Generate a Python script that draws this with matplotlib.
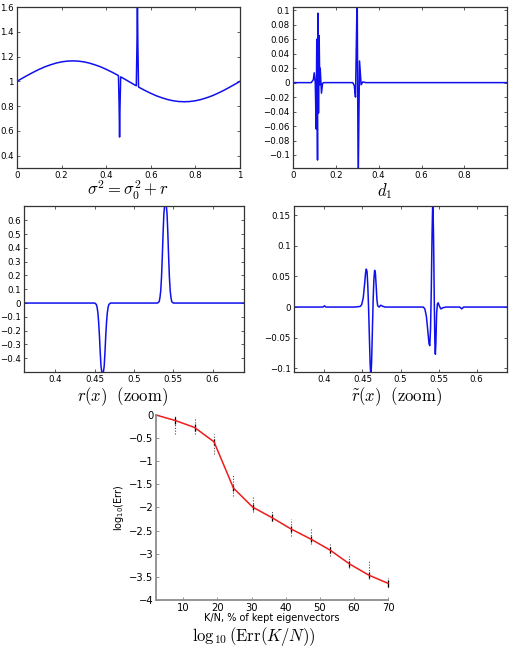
import numpy as np
import matplotlib as mpl
mpl.use('agg')
import matplotlib.pyplot as plt
from matplotlib.ticker import FuncFormatter

plt.rcParams['font.family'] = ['DejaVu Sans']
plt.rcParams['mathtext.fontset'] = 'cm'

##--##--  data  --##--##
# sigma^2 = sigma0^2 + r
sig_x = [0.0, 0.025, 0.05, 0.075, 0.1, 0.125, 0.15, 0.175, 0.2, 0.225, 0.25, 0.275, 0.3, 0.325,
         0.35, 0.375, 0.4, 0.425, 0.45, 0.455, 0.458, 0.46, 0.462, 0.465, 0.475,
         0.5, 0.525, 0.535, 0.538, 0.54, 0.542, 0.545, 0.55, 0.575, 0.6, 0.625, 0.65, 0.675,
         0.7, 0.725, 0.75, 0.775, 0.8, 0.825, 0.85, 0.875, 0.9, 0.925, 0.95, 0.975, 1.0]
sig_y = [1.0, 1.026, 1.051, 1.075, 1.097, 1.117, 1.133, 1.147, 1.157, 1.163, 1.165, 1.163, 1.157, 1.147,
         1.133, 1.117, 1.097, 1.075, 1.051, 1.046, 0.80, 0.55, 0.80, 1.036, 1.026,
         1.0, 0.974, 0.964, 1.30, 1.66, 1.30, 0.954, 0.949, 0.925, 0.903, 0.883, 0.867, 0.853,
         0.843, 0.837, 0.835, 0.837, 0.843, 0.853, 0.867, 0.883, 0.903, 0.925, 0.949, 0.974, 1.0]

# d_1
d1_x = [0.0, 0.085, 0.095, 0.099, 0.104, 0.108, 0.111, 0.1145, 0.116, 0.119, 0.122, 0.125, 0.127,
        0.133, 0.138, 0.144, 0.279, 0.286, 0.2918, 0.2996, 0.3043, 0.3106, 0.318, 0.326, 0.34, 1.0]
d1_y = [0.0, 0.0, 0.004, 0.0136, 0.0, -0.064, 0.060, -0.107, 0.096, -0.042, 0.065, -0.003, 0.020,
        -0.0145, -0.001, 0.0, 0.0, -0.004, -0.020, 0.125, -0.140, 0.030, -0.003, 0.001, 0.0, 0.0]

# r(x) zoom
r_x = [0.36, 0.450, 0.452, 0.453, 0.454, 0.455, 0.456, 0.457, 0.458, 0.459, 0.460, 0.461, 0.462,
       0.463, 0.464, 0.465, 0.466, 0.467, 0.468, 0.470,
       0.530, 0.532, 0.533, 0.534, 0.535, 0.536, 0.537, 0.538, 0.539, 0.540, 0.541, 0.542,
       0.543, 0.544, 0.545, 0.546, 0.547, 0.548, 0.550, 0.64]
r_y = [0.0, 0.0, -0.01, -0.03, -0.07, -0.14, -0.24, -0.36, -0.46, -0.50, -0.52, -0.50, -0.46,
       -0.36, -0.24, -0.14, -0.07, -0.03, -0.01, 0.0,
       0.0, 0.01, 0.04, 0.09, 0.19, 0.34, 0.51, 0.65, 0.71, 0.73, 0.71, 0.65,
       0.51, 0.34, 0.19, 0.09, 0.04, 0.01, 0.0, 0.0]

# r~(x) zoom
rt_x = [0.36, 0.398, 0.400, 0.402, 0.440, 0.447, 0.449, 0.451, 0.453, 0.454, 0.455, 0.456, 0.457,
        0.458, 0.459, 0.460, 0.461, 0.462, 0.463, 0.464, 0.465, 0.466, 0.467, 0.468, 0.469, 0.470,
        0.472, 0.474, 0.477, 0.480,
        0.530, 0.532, 0.534, 0.536, 0.5375, 0.5385, 0.5395, 0.5405, 0.5415, 0.5425, 0.5435, 0.5445,
        0.5452, 0.5458, 0.5465, 0.5475, 0.5485, 0.5495, 0.551, 0.553, 0.556, 0.560,
        0.578, 0.5805, 0.583, 0.64]
rt_y = [0.0, 0.0, 0.002, 0.0, 0.0, 0.001, 0.004, 0.015, 0.040, 0.055, 0.062, 0.058, 0.035,
        0.0, -0.045, -0.090, -0.115, -0.090, -0.040, 0.010, 0.045, 0.060, 0.055, 0.035, 0.012, 0.002,
        0.0, 0.003, 0.001, 0.0,
        0.0, -0.003, -0.015, -0.040, -0.060, -0.063, -0.035, 0.030, 0.120, 0.180, 0.110, 0.0,
        -0.060, -0.077, -0.060, -0.010, 0.005, 0.007, 0.002, -0.003, -0.001, 0.0,
        0.0, -0.003, 0.0, 0.0]

# log10(Err(K/N))
kn = [2, 7.7, 13.3, 19, 24.7, 30.3, 36, 41.7, 47.3, 53, 58.7, 64.3, 70]
err = [0.0, -0.12, -0.27, -0.58, -1.58, -1.99, -2.22, -2.47, -2.68, -2.92, -3.22, -3.46, -3.64]
err_hi = [0.0, -0.02, -0.08, -0.40, -1.28, -1.75, -2.05, -2.25, -2.45, -2.78, -3.05, -3.15, -3.52]
err_lo = [0.0, -0.42, -0.40, -0.85, -1.75, -2.10, -2.30, -2.62, -2.80, -3.05, -3.30, -3.55, -3.72]

# ticks
t1_x = [0, 0.2, 0.4, 0.6, 0.8, 1.0]
t1_y = [0.4, 0.6, 0.8, 1.0, 1.2, 1.4, 1.6]
t2_x = [0, 0.2, 0.4, 0.6, 0.8]
t2_y = [-0.1, -0.08, -0.06, -0.04, -0.02, 0, 0.02, 0.04, 0.06, 0.08, 0.1]
t3_x = [0.4, 0.45, 0.5, 0.55, 0.6]
t3_y = [-0.4, -0.3, -0.2, -0.1, 0, 0.1, 0.2, 0.3, 0.4, 0.5, 0.6]
t4_y = [-0.1, -0.05, 0, 0.05, 0.1, 0.15]
t5_x = [10, 20, 30, 40, 50, 60, 70]
t5_y = [-4, -3.5, -3, -2.5, -2, -1.5, -1, -0.5, 0]


def fmt(v, p):
    return ('%g' % round(v, 6)).replace('-', '\u2212')


def create_map(ax, xt, yt):
    ax.set_xticks(xt)
    ax.set_yticks(yt)
    ax.xaxis.set_major_formatter(FuncFormatter(fmt))
    ax.yaxis.set_major_formatter(FuncFormatter(fmt))
    ax.tick_params(axis='both', direction='in', length=2.5, width=0.6, labelsize=6.2,
                   top=True, right=True, color='0.25', pad=2.5)
    for s in ax.spines.values():
        s.set_linewidth(0.9)
        s.set_color('0.2')
    return ax


##--##--  figure  --##--##
fig = plt.figure(figsize=(5.10, 6.55), dpi=100)

ax1 = fig.add_axes([0.0333, 0.7435, 0.4373, 0.2458])
create_map(ax1, t1_x, t1_y)
ax1.plot(sig_x, sig_y, color='#1010ee', linewidth=1.1)
ax1.set_xlim(0, 1)
ax1.set_ylim(0.3, 1.6)

ax2 = fig.add_axes([0.5745, 0.7435, 0.4196, 0.2458])
create_map(ax2, t2_x, t2_y)
ax2.plot(d1_x, d1_y, color='#1010ee', linewidth=1.1)
ax2.set_xlim(0, 0.999)
ax2.set_ylim(-0.118, 0.1045)

ax3 = fig.add_axes([0.0471, 0.4321, 0.4314, 0.2534])
create_map(ax3, t3_x, t3_y)
ax3.plot(r_x, r_y, color='#1010ee', linewidth=1.1)
ax3.set_xlim(0.36, 0.64)
ax3.set_ylim(-0.5, 0.704)

ax4 = fig.add_axes([0.5765, 0.4321, 0.4176, 0.2534])
create_map(ax4, t3_x, t4_y)
ax4.plot(rt_x, rt_y, color='#1010ee', linewidth=1.1)
ax4.set_xlim(0.36, 0.64)
ax4.set_ylim(-0.106, 0.165)

ax5 = fig.add_axes([0.3059, 0.0840, 0.4549, 0.2824])
ax5.vlines(kn[1:], err_lo[1:], err_hi[1:], color='0.3', linewidth=0.8, linestyles=(0, (1, 1.5)),
           clip_on=False)
ax5.vlines(kn[1:], np.array(err[1:]) - 0.07, np.array(err[1:]) + 0.07, color='k', linewidth=0.9,
           clip_on=False)
ax5.plot(kn, err, color='#ee1c1c', linewidth=1.1, clip_on=False)
ax5.set_xlim(2, 70)
ax5.set_ylim(-4, 0)
ax5.set_xticks(t5_x)
ax5.set_yticks(t5_y)
ax5.yaxis.set_major_formatter(FuncFormatter(fmt))
ax5.tick_params(axis='both', direction='in', length=2.5, width=0.6, labelsize=7.2,
                color='0.5', pad=2)
for s in ['top', 'right']:
    ax5.spines[s].set_visible(False)
for s in ['left', 'bottom']:
    ax5.spines[s].set_linewidth(1.3)
    ax5.spines[s].set_color('0.55')
ax5.set_xlabel('K/N, % of kept eigenvectors', fontsize=7, labelpad=0)
ax5.set_ylabel(r'log$_{10}$(Err)', fontsize=7, labelpad=2, math_fontfamily='dejavusans')

##--##--  captions  --##--##
fig.text(0.251, 0.709, r'$\sigma^2 = \sigma_0^2 + r$', fontsize=12, ha='center', va='center')
fig.text(0.755, 0.709, r'$d_1$', fontsize=12, ha='center', va='center')
fig.text(0.241, 0.395, r'$r(x)\ \ (\mathrm{zoom})$', fontsize=12, ha='center', va='center')
fig.text(0.778, 0.395, r'$\tilde{r}(x)\ \ (\mathrm{zoom})$', fontsize=12, ha='center', va='center')
fig.text(0.497, 0.029, r'$\log_{10}(\mathrm{Err}(K/N))$', fontsize=12, ha='center', va='center')

fig.savefig('out.png', dpi=100)
